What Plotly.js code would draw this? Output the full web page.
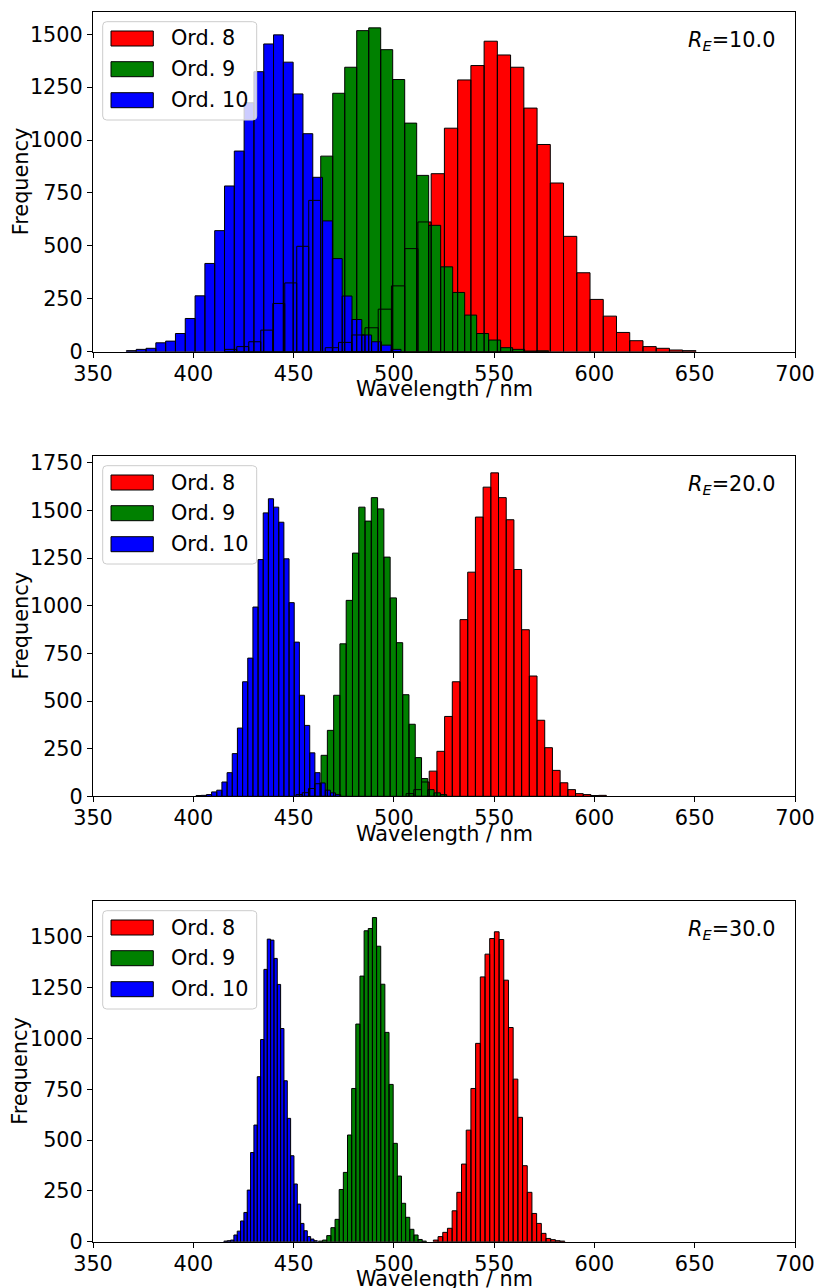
<!DOCTYPE html>
<html><head><meta charset="utf-8">
<script src="https://cdn.plot.ly/plotly-3.0.1.min.js"></script>
<style>html,body{margin:0;padding:0;background:#fff}#chart{width:819px;height:1288px}</style>
</head><body><div id="chart"></div>
<script>
// ---------------- data ----------------
const seriesNames = ['Ord. 8', 'Ord. 9', 'Ord. 10'];
const seriesColors = ['#ff0000', '#008000', '#0000ff'];
const panelRE = ['10.0', '20.0', '30.0'];
const xTicks = [350, 400, 450, 500, 550, 600, 650, 700];
const yTicks1 = [0, 250, 500, 750, 1000, 1250, 1500];
const yTicks2 = [0, 250, 500, 750, 1000, 1250, 1500, 1750];
const yTicks3 = [0, 250, 500, 750, 1000, 1250, 1500];
const xTitle = 'Wavelength / nm';
const yTitle = 'Frequency';

// Panel 1 (R_E = 10.0): left edge of first bin (nm), bin width (nm), counts
const p1Ord8Start = 465.8, p1Ord8Width = 6.6;
const p1Ord8Counts = [19, 44, 79, 113, 201, 311, 487, 613, 841, 1056, 1284, 1352, 1467, 1402, 1344, 1151, 979, 797, 545, 373, 247, 168, 91, 52, 24, 16, 8, 5];
const p1Ord9Start = 415.7, p1Ord9Width = 5.98;
const p1Ord9Counts = [11, 24, 47, 102, 228, 325, 498, 715, 924, 1221, 1344, 1517, 1530, 1427, 1286, 1080, 833, 597, 401, 280, 173, 86, 55, 19, 11, 3, 4];
const p1Ord10Start = 366.66, p1Ord10Width = 4.89;
const p1Ord10Counts = [5, 11, 16, 42, 50, 86, 157, 264, 417, 572, 783, 948, 1176, 1323, 1454, 1497, 1368, 1218, 1030, 824, 618, 440, 263, 152, 79, 47, 31, 11];

// Panel 2 (R_E = 20.0)
const p2Ord8Start = 506.1, p2Ord8Width = 3.84;
const p2Ord8Counts = [14, 35, 75, 132, 236, 419, 601, 927, 1176, 1465, 1622, 1697, 1567, 1451, 1190, 874, 631, 399, 255, 136, 71, 35, 14, 9, 4, 5];
const p2Ord9Start = 451.2, p2Ord9Width = 3.13;
const p2Ord9Counts = [9, 19, 41, 66, 215, 346, 530, 800, 1028, 1276, 1517, 1444, 1567, 1508, 1255, 1041, 806, 533, 378, 203, 93, 35, 18, 9];
const p2Ord10Start = 401.4, p2Ord10Width = 2.575;
const p2Ord10Counts = [4, 5, 9, 23, 32, 75, 124, 224, 358, 601, 725, 993, 1242, 1487, 1561, 1517, 1438, 1246, 1016, 809, 530, 372, 228, 124, 70, 32, 18, 9];

// Panel 3 (R_E = 30.0)
const p3Ord8Start = 519.7, p3Ord8Width = 2.34;
const p3Ord8Counts = [8, 25, 46, 66, 152, 243, 382, 549, 754, 976, 1303, 1415, 1492, 1525, 1487, 1287, 1054, 800, 612, 374, 243, 139, 90, 41, 16, 10, 5, 3];
const p3Ord9Start = 462.4, p3Ord9Width = 2.07;
const p3Ord9Counts = [3, 8, 30, 69, 110, 257, 341, 525, 754, 1071, 1307, 1530, 1541, 1595, 1454, 1267, 1030, 774, 484, 323, 189, 120, 61, 33, 11, 3];
const p3Ord10Start = 415.25, p3Ord10Width = 1.664;
const p3Ord10Counts = [3, 5, 8, 33, 52, 102, 144, 254, 439, 574, 812, 995, 1340, 1489, 1484, 1394, 1266, 1049, 792, 607, 423, 284, 185, 90, 54, 25, 13, 5];

const panels = [
  {series: [[p1Ord8Start, p1Ord8Width, p1Ord8Counts], [p1Ord9Start, p1Ord9Width, p1Ord9Counts], [p1Ord10Start, p1Ord10Width, p1Ord10Counts]], yTicks: yTicks1, yMax: 1605},
  {series: [[p2Ord8Start, p2Ord8Width, p2Ord8Counts], [p2Ord9Start, p2Ord9Width, p2Ord9Counts], [p2Ord10Start, p2Ord10Width, p2Ord10Counts]], yTicks: yTicks2, yMax: 1787},
  {series: [[p3Ord8Start, p3Ord8Width, p3Ord8Counts], [p3Ord9Start, p3Ord9Width, p3Ord9Counts], [p3Ord10Start, p3Ord10Width, p3Ord10Counts]], yTicks: yTicks3, yMax: 1678}
];

// ---------------- layout geometry (px) ----------------
const W = 819, H = 1288;
const M = {l: 93, r: 24, t: 12, b: 46};
const plotW = W - M.l - M.r, plotH = H - M.t - M.b;
const panelTopPx = [11.7, 455.7, 900.7];
const panelBotPx = [351.7, 796.3, 1241.7];
const px2x = p => (p - M.l) / plotW;
const py2y = p => (H - M.b - p) / plotH;

// rounded rectangle path in paper coordinates from pixel box
function roundRect(x0, y0, x1, y1, r) {
  const X = px2x, Y = py2y;
  return 'M' + X(x0 + r) + ',' + Y(y0) + ' L' + X(x1 - r) + ',' + Y(y0) +
    ' Q' + X(x1) + ',' + Y(y0) + ' ' + X(x1) + ',' + Y(y0 + r) +
    ' L' + X(x1) + ',' + Y(y1 - r) +
    ' Q' + X(x1) + ',' + Y(y1) + ' ' + X(x1 - r) + ',' + Y(y1) +
    ' L' + X(x0 + r) + ',' + Y(y1) +
    ' Q' + X(x0) + ',' + Y(y1) + ' ' + X(x0) + ',' + Y(y1 - r) +
    ' L' + X(x0) + ',' + Y(y0 + r) +
    ' Q' + X(x0) + ',' + Y(y0) + ' ' + X(x0 + r) + ',' + Y(y0) + ' Z';
}

const FONT = 'DejaVu Sans, Verdana, sans-serif';
const FS = 20.8;
const traces = [];
const outlines = [];
panels.forEach((pn, i) => {
  const s = i === 0 ? '' : String(i + 1);
  pn.series.forEach(([start, w, counts], j) => {
    const xs = counts.map((_, k) => start + (k + 0.5) * w);
    traces.push({type: 'bar', x: xs, y: counts, width: w, name: seriesNames[j],
      marker: {color: seriesColors[j], line: {width: 0}}, xaxis: 'x' + s, yaxis: 'y' + s,
      showlegend: false, hoverinfo: 'x+y+name'});
    outlines.push({type: 'bar', x: xs, y: counts, width: w, name: seriesNames[j],
      marker: {color: 'rgba(0,0,0,0)', line: {width: 1, color: '#000'}}, xaxis: 'x' + s, yaxis: 'y' + s,
      showlegend: false, hoverinfo: 'skip'});
  });
});

const layout = {
  width: W, height: H, margin: M, barmode: 'overlay',
  paper_bgcolor: '#fff', plot_bgcolor: '#fff',
  font: {family: FONT, size: FS, color: '#000'},
  shapes: [], annotations: []
};
panels.forEach((pn, i) => {
  const s = i === 0 ? '' : String(i + 1);
  const axCommon = {showline: true, mirror: true, linecolor: '#000', linewidth: 1,
    ticks: 'outside', ticklen: 5, tickwidth: 1, tickcolor: '#000', showgrid: false, zeroline: false,
    tickfont: {family: FONT, size: FS, color: '#000'}, automargin: false};
  layout['xaxis' + s] = Object.assign({}, axCommon, {range: [350, 700], tickvals: xTicks,
    anchor: 'y' + s, domain: [0, 1], ticklabelstandoff: -2});
  layout['yaxis' + s] = Object.assign({}, axCommon, {range: [0, pn.yMax], tickvals: pn.yTicks,
    anchor: 'x' + s, domain: [py2y(panelBotPx[i]), py2y(panelTopPx[i])]});

  const T = panelTopPx[i], B = panelBotPx[i];
  // axis titles
  layout.annotations.push({xref: 'paper', yref: 'paper', x: px2x(444), y: py2y(B + 37.5),
    xanchor: 'center', yanchor: 'middle', showarrow: false, text: xTitle,
    font: {family: FONT, size: FS, color: '#000'}});
  layout.annotations.push({xref: 'paper', yref: 'paper', x: px2x(20.5), y: py2y((T + B) / 2),
    xanchor: 'center', yanchor: 'middle', showarrow: false, text: yTitle, textangle: -90,
    font: {family: FONT, size: FS, color: '#000'}});
  // legend box
  layout.shapes.push({type: 'path', xref: 'paper', yref: 'paper', layer: 'above',
    path: roundRect(102.7, T + 10, 256.7, T + 108.3, 4),
    fillcolor: 'rgba(255,255,255,0.8)', line: {color: '#cccccc', width: 1}});
  const rows = [T + 26.8, T + 57.5, T + 88.5];
  seriesNames.forEach((nm, j) => {
    layout.shapes.push({type: 'rect', xref: 'paper', yref: 'paper', layer: 'above',
      x0: px2x(111), x1: px2x(153.3), y0: py2y(rows[j] + 7.5), y1: py2y(rows[j] - 7.5),
      fillcolor: seriesColors[j], line: {color: '#000', width: 1}});
    layout.annotations.push({xref: 'paper', yref: 'paper', x: px2x(169), y: py2y(rows[j]),
      xanchor: 'left', yanchor: 'middle', showarrow: false, text: nm,
      font: {family: FONT, size: FS, color: '#000'}});
  });
  layout.annotations.push({xref: 'paper', yref: 'paper', x: px2x(777), y: py2y(T + 29),
    xanchor: 'right', yanchor: 'middle', showarrow: false,
    text: '<i>R</i><sub><i>E</i></sub>=' + panelRE[i], font: {family: FONT, size: FS, color: '#000'}});
});

Plotly.newPlot('chart', traces.concat(outlines), layout, {staticPlot: true});
</script></body></html>
